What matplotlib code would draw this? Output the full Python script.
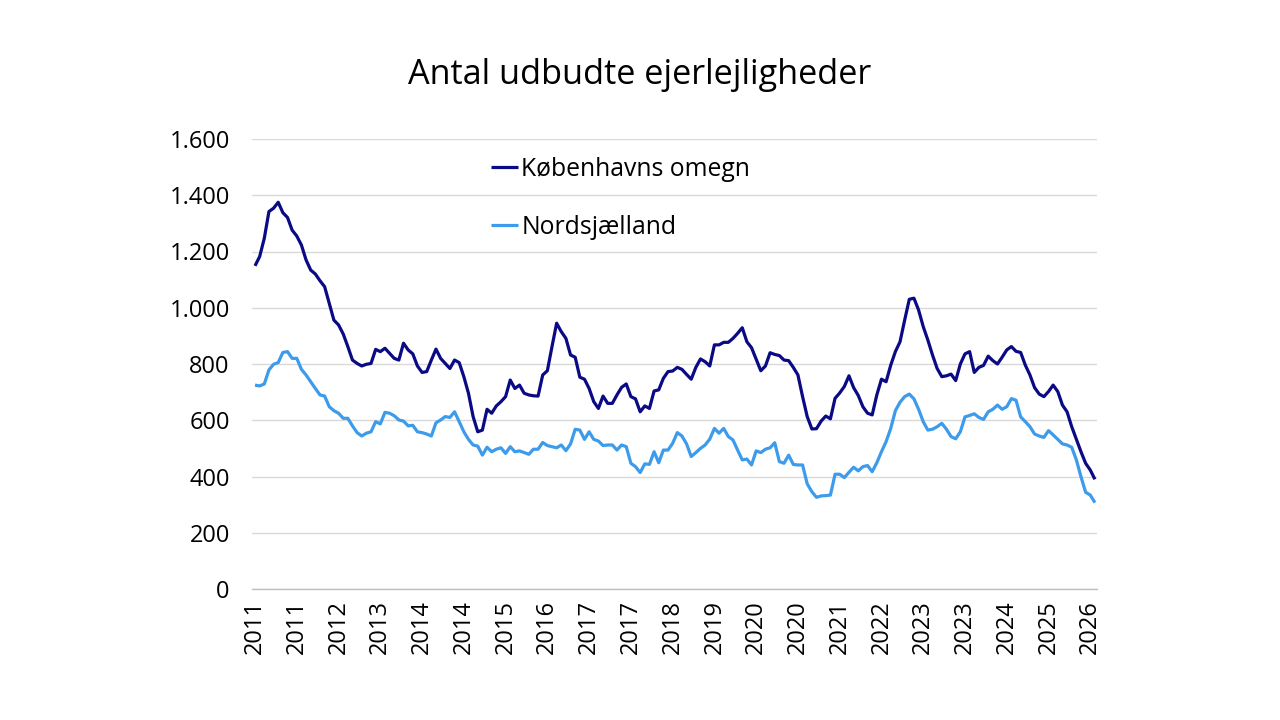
import matplotlib
matplotlib.use("Agg")
import matplotlib.pyplot as plt
import pandas as pd

# Monthly observations, Jan 2011 - Feb 2026
months = pd.date_range("2011-01-01", "2026-02-01", freq="MS")

kobenhavns_omegn = [
    1149, 1182, 1247, 1342, 1354, 1375, 1338, 1321, 1276, 1255,
    1223, 1170, 1134, 1120, 1096, 1075, 1016, 956, 939, 907,
    862, 814, 802, 793, 799, 802, 852, 844, 856, 838,
    820, 814, 874, 850, 836, 793, 770, 773, 814, 853,
    820, 802, 784, 814, 805, 755, 696, 613, 559, 565,
    639, 625, 651, 666, 684, 743, 713, 725, 696, 690,
    687, 686, 761, 776, 862, 945, 915, 891, 832, 824,
    753, 746, 713, 666, 642, 686, 660, 660, 690, 717,
    729, 684, 676, 630, 651, 642, 704, 708, 749, 773,
    775, 788, 781, 763, 746, 788, 818, 808, 793, 868,
    868, 877, 877, 891, 909, 929, 879, 858, 817, 776,
    793, 840, 834, 830, 814, 812, 788, 761, 684, 613,
    569, 570, 597, 615, 605, 678, 697, 720, 758, 716,
    688, 648, 625, 619, 690, 746, 737, 796, 844, 879,
    956, 1030, 1034, 992, 933, 885, 832, 784, 755, 758,
    764, 741, 800, 836, 844, 770, 788, 795, 828, 812,
    800, 824, 850, 862, 845, 841, 796, 761, 716, 693,
    684, 702, 725, 702, 654, 630, 577, 532, 488, 447,
    423, 390,
]

nordsjaelland = [
    725, 722, 729, 779, 799, 805, 841, 844, 820, 820,
    781, 761, 737, 713, 690, 686, 648, 634, 625, 607,
    607, 580, 556, 544, 554, 559, 595, 587, 628, 625,
    616, 601, 597, 580, 582, 559, 556, 551, 544, 591,
    601, 613, 610, 630, 595, 559, 532, 512, 508, 476,
    504, 488, 497, 502, 482, 506, 488, 491, 485, 479,
    497, 497, 521, 510, 506, 502, 512, 492, 516, 568,
    565, 532, 559, 532, 526, 510, 512, 512, 494, 512,
    506, 447, 435, 414, 445, 443, 488, 449, 494, 494,
    518, 556, 544, 516, 471, 485, 500, 512, 533, 571,
    554, 571, 542, 530, 494, 459, 462, 441, 491, 485,
    497, 502, 520, 453, 447, 476, 443, 441, 441, 374,
    346, 326, 331, 332, 334, 408, 408, 396, 415, 433,
    420, 435, 439, 417, 449, 488, 524, 571, 634, 664,
    684, 693, 676, 639, 595, 565, 568, 577, 589, 568,
    542, 534, 559, 612, 617, 623, 610, 603, 630, 639,
    654, 639, 648, 677, 671, 612, 595, 577, 551, 544,
    539, 563, 548, 532, 516, 512, 504, 459, 399, 344,
    334, 307,
]

series_names = ["Københavns omegn", "Nordsjælland"]
tick_labels = ["2011", "2011", "2012", "2013", "2014", "2014", "2015", "2016",
               "2017", "2017", "2018", "2019", "2020", "2020", "2021", "2022",
               "2023", "2023", "2024", "2025", "2026"]
y_ticks = [0, 200, 400, 600, 800, 1000, 1200, 1400, 1600]
y_tick_labels = ["0", "200", "400", "600", "800", "1.000", "1.200", "1.400", "1.600"]
title = "Antal udbudte ejerlejligheder"

plt.rcParams["font.family"] = ["Open Sans", "DejaVu Sans"]

fig = plt.figure(figsize=(12.8, 7.2), dpi=100)
ax = fig.add_axes([252 / 1280, 1 - 589 / 720, 845 / 1280, 450 / 720])

n = min(len(months), len(kobenhavns_omegn), len(nordsjaelland))
xs = list(range(n))
ax.plot(xs, kobenhavns_omegn[:n], color="#0a0a85", lw=2.3, label=series_names[0],
        solid_joinstyle="round", solid_capstyle="butt")
ax.plot(xs, nordsjaelland[:n], color="#3d9beb", lw=2.3, label=series_names[1],
        solid_joinstyle="round", solid_capstyle="butt")

ax.set_xlim(-0.65, n - 1 + 0.45)
ax.set_ylim(0, 1600)

ax.set_yticks(y_ticks)
ax.set_yticklabels(y_tick_labels, fontsize=17)
tick_pos = list(range(0, 9 * len(tick_labels), 9))
ax.set_xticks(tick_pos)
ax.set_xticklabels(tick_labels, rotation=90, fontsize=17)
ax.tick_params(axis="both", length=0, colors="#000000")
ax.tick_params(axis="y", pad=16)
ax.tick_params(axis="x", pad=8)

ax.grid(axis="y", color="#d9d9d9", lw=1.0)
ax.set_axisbelow(True)
for s in ["top", "right", "left"]:
    ax.spines[s].set_visible(False)
ax.spines["bottom"].set_color("#bfbfbf")
ax.spines["bottom"].set_linewidth(1.0)

fig.text(0.5, 1 - 75 / 720, title, ha="center", va="center", fontsize=24.7,
         fontweight="medium")

leg = ax.legend(loc="upper left", bbox_to_anchor=(491 / 1280, 1 - 157 / 720),
                bbox_transform=fig.transFigure, frameon=False, fontsize=17.8,
                handlelength=1.1, handletextpad=0.12, labelspacing=1.33,
                borderpad=0, borderaxespad=0)

fig.savefig("out.png", dpi=100)
